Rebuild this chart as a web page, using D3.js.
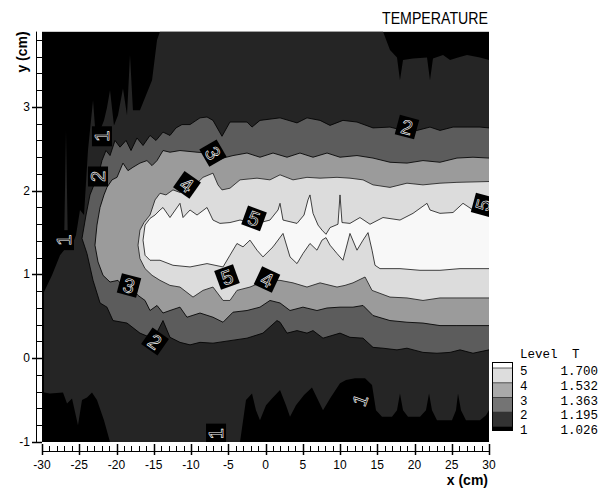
<!DOCTYPE html>
<html><head><meta charset="utf-8">
<script src="https://cdn.jsdelivr.net/npm/d3@7"></script>
<style>body{margin:0;background:#fff}</style>
</head><body>
<svg id="chart" width="613" height="493"></svg>
<script>
// ---------- data (cm) ----------
const xDomain = [-30, 30];
const yDomain = [-1, 3.9];
const xTickLabels = [-30,-25,-20,-15,-10,-5,0,5,10,15,20,25,30];
const yTickLabels = [-1,0,1,2,3];
const levelNumbers = [5,4,3,2,1];
const levelValues = ["1.700","1.532","1.363","1.195","1.026"];

// contour of level 1 (T > 1.026)
const c1Upper = [[-29.73,0.79],[-28.66,0.99],[-27.58,1.23],[-27.05,1.29],[-26.78,2.72],[-26.51,1.29],[-25.97,1.35],[-25.44,1.47],[-24.9,1.77],[-24.36,1.71],[-23.83,2.48],[-23.15,3.08],[-22.75,2.6],[-22.21,2.72],[-21.68,2.84],[-21.28,2.99],[-20.87,3.2],[-20.34,2.78],[-19.8,2.9],[-19.13,3.22],[-18.59,2.9],[-18.19,3.62],[-17.79,2.96],[-16.85,2.96],[-16.04,3.14],[-15.23,3.32],[-14.56,3.8],[-14.16,3.9],[15.77,3.9],[16.71,3.68],[17.65,3.59],[18.05,3.32],[18.46,3.56],[19.8,3.58],[21.68,3.59],[22.08,3.32],[22.48,3.58],[23.83,3.62],[24.77,3.56],[25.84,3.59],[27.05,3.62],[28.79,3.59],[30,3.56]];
const c1Lower = [[-29.73,-0.41],[-28.93,-0.42],[-27.18,-0.41],[-26.64,-0.54],[-25.97,-0.48],[-25.17,-0.8],[-24.63,-0.5],[-23.96,-0.47],[-23.29,-0.41],[-22.62,-0.5],[-21.68,-0.74],[-20.87,-1.0],[-3.42,-1.0],[-2.62,-0.5],[-1.81,-0.42],[-1.28,-0.62],[-0.74,-0.74],[0.07,-0.56],[0.87,-0.48],[1.95,-0.38],[2.75,-0.56],[3.29,-0.7],[4.09,-0.56],[5.17,-0.44],[6.24,-0.35],[7.05,-0.5],[7.72,-0.62],[8.66,-0.48],[10.0,-0.3],[10.81,-0.26],[12.01,-0.24],[13.36,-0.24],[14.3,-0.32],[14.83,-0.62],[15.64,-0.7],[16.98,-0.7],[17.65,-0.62],[18.05,-0.42],[18.46,-0.62],[19.13,-0.7],[20.74,-0.7],[21.54,-0.62],[21.95,-0.42],[22.35,-0.62],[23.02,-0.74],[25.03,-0.74],[25.57,-0.62],[25.84,-0.42],[26.24,-0.62],[26.91,-0.74],[28.79,-0.74],[29.6,-0.68],[30,-0.62]];

// contour of level 2 (T > 1.195)
const c2Upper = [[-24.63,1.43],[-24.09,1.71],[-23.56,1.95],[-22.89,2.1],[-22.48,2.17],[-21.95,2.36],[-21.41,2.48],[-20.87,2.42],[-20.2,2.6],[-19.53,2.52],[-18.72,2.6],[-18.05,2.48],[-17.25,2.63],[-16.44,2.54],[-15.5,2.66],[-14.7,2.6],[-13.76,2.7],[-12.82,2.66],[-12.01,2.75],[-11.21,2.79],[-10.13,2.79],[-8.79,2.87],[-7.85,2.88],[-7.05,2.84],[-5.84,2.65],[-4.77,2.82],[-2.48,2.82],[-1.81,2.76],[-0.74,2.84],[1.95,2.87],[4.23,2.81],[5.57,2.87],[7.32,2.84],[8.66,2.78],[10.4,2.84],[12.28,2.82],[14.43,2.75],[16.71,2.76],[18.46,2.72],[20.34,2.72],[22.08,2.76],[23.42,2.72],[25.17,2.76],[27.05,2.76],[28.79,2.76],[30,2.75]];
const c2Lower = [[-24.63,1.43],[-23.96,1.25],[-23.15,0.93],[-22.21,0.66],[-21.28,0.61],[-20.47,0.45],[-18.59,0.42],[-16.85,0.3],[-15.5,0.25],[-14.56,0.31],[-13.76,0.45],[-12.82,0.25],[-11.48,0.19],[-10.13,0.16],[-8.79,0.19],[-7.05,0.18],[-4.77,0.21],[-2.48,0.24],[-0.34,0.3],[1.54,0.45],[1.95,0.43],[2.89,0.3],[4.23,0.33],[5.57,0.3],[6.38,0.33],[7.72,0.24],[10.0,0.3],[11.34,0.25],[13.09,0.24],[14.43,0.13],[15.77,0.12],[17.65,0.1],[18.99,0.12],[21.14,0.07],[23.02,0.06],[24.77,0.07],[26.11,0.1],[27.85,0.06],[30,0.1]];

// contour of level 3 (T > 1.363)
const c3Upper = [[-22.89,1.35],[-22.62,1.59],[-22.21,1.8],[-21.68,1.95],[-21.28,2.04],[-20.6,2.13],[-19.93,2.16],[-19.13,2.33],[-18.46,2.24],[-17.79,2.28],[-16.85,2.33],[-15.91,2.36],[-15.23,2.3],[-14.56,2.36],[-13.76,2.48],[-12.82,2.46],[-11.48,2.48],[-9.19,2.46],[-7.45,2.45],[-6.38,2.36],[-5.7,2.39],[-4.36,2.42],[-2.48,2.45],[-0.74,2.4],[1.01,2.45],[2.89,2.4],[4.63,2.45],[6.38,2.4],[8.26,2.45],[10.0,2.4],[12.28,2.42],[14.43,2.39],[16.71,2.34],[18.99,2.33],[21.14,2.36],[23.42,2.34],[25.7,2.39],[27.85,2.4],[30,2.39]];
const c3Lower = [[-22.89,1.35],[-22.48,1.15],[-21.81,0.99],[-20.87,0.91],[-19.8,0.93],[-18.99,0.84],[-18.19,0.87],[-17.11,0.75],[-16.17,0.69],[-15.5,0.57],[-14.56,0.63],[-13.76,0.54],[-12.82,0.57],[-11.48,0.61],[-10.54,0.49],[-8.79,0.54],[-7.05,0.49],[-5.7,0.43],[-4.36,0.55],[-2.48,0.57],[-0.74,0.61],[0.6,0.69],[1.95,0.66],[3.29,0.57],[5.03,0.61],[6.91,0.57],[8.26,0.6],[10.0,0.61],[11.74,0.61],[13.09,0.63],[14.43,0.51],[16.71,0.45],[18.99,0.43],[21.14,0.42],[23.42,0.39],[25.7,0.39],[30,0.39]];

// contour of level 4 (T > 1.532)
const c4Upper = [[-17.11,1.35],[-16.85,1.53],[-16.31,1.62],[-15.5,1.71],[-14.83,1.89],[-14.16,1.97],[-13.36,1.95],[-12.42,2.01],[-11.48,1.98],[-10.13,2.04],[-9.19,2.09],[-8.39,2.16],[-7.05,2.21],[-6.38,2.07],[-5.84,2.01],[-4.77,2.03],[-3.42,2.13],[-1.14,2.15],[0.6,2.13],[1.95,2.19],[3.69,2.13],[5.57,2.16],[7.32,2.15],[9.6,2.16],[11.34,2.15],[13.09,2.13],[14.43,2.07],[16.71,2.04],[18.99,2.09],[21.14,2.07],[23.42,2.09],[25.7,2.1],[30,2.11]];
const c4Lower = [[-17.11,1.35],[-16.85,1.19],[-16.17,1.07],[-15.23,0.99],[-14.16,0.93],[-12.82,0.87],[-11.48,0.85],[-9.73,0.73],[-8.39,0.81],[-7.05,0.85],[-5.7,0.69],[-4.77,0.69],[-3.83,0.81],[-2.08,0.85],[-0.74,0.9],[0.2,0.93],[1.95,0.93],[3.69,0.9],[5.57,0.85],[7.32,0.9],[9.6,0.85],[10.67,0.87],[11.74,0.9],[13.36,0.97],[14.3,0.81],[16.71,0.73],[18.99,0.72],[21.14,0.69],[23.42,0.72],[25.7,0.72],[30,0.72]];

// contour of level 5 (T > 1.700)
const c5Upper = [[-16.44,1.41],[-16.17,1.59],[-15.5,1.67],[-14.83,1.71],[-14.16,1.77],[-13.76,1.8],[-12.82,1.68],[-11.48,1.85],[-11.07,1.68],[-10.13,1.77],[-9.19,1.71],[-7.85,1.8],[-7.05,1.65],[-6.11,1.61],[-4.77,1.62],[-3.42,1.65],[-1.14,1.61],[0.6,1.65],[1.68,1.77],[1.95,1.85],[2.35,1.65],[4.23,1.61],[5.17,1.71],[5.7,1.89],[5.97,1.95],[6.38,1.73],[7.05,1.59],[7.58,1.53],[8.12,1.48],[8.66,1.56],[9.73,1.6],[10.0,1.95],[10.27,1.62],[11.34,1.61],[12.68,1.68],[14.03,1.6],[15.77,1.68],[18.05,1.65],[19.8,1.73],[21.68,1.85],[22.08,1.77],[23.42,1.73],[25.17,1.74],[26.51,1.85],[27.85,1.77],[30,1.8]];
const c5Lower = [[-16.44,1.41],[-16.17,1.23],[-15.5,1.17],[-14.16,1.17],[-12.42,1.11],[-10.13,1.09],[-7.85,1.13],[-5.7,1.09],[-4.77,1.23],[-3.83,1.37],[-3.02,1.33],[-2.08,1.41],[-1.14,1.29],[-0.34,1.21],[1.01,1.33],[2.35,1.49],[3.29,1.21],[4.23,1.13],[5.03,1.25],[5.97,1.37],[6.91,1.29],[7.58,1.41],[8.12,1.44],[8.66,1.35],[9.6,1.25],[10.4,1.17],[11.34,1.49],[12.28,1.29],[13.09,1.41],[13.76,1.5],[14.3,1.29],[14.7,1.11],[15.37,1.07],[18.05,1.07],[20.74,1.05],[23.42,1.05],[26.11,1.07],[30,1.07]];

// contour labels: [x, y, level, angle]
const contourLabels = [[-21.95,2.65,1,-90],[-22.48,2.17,2,-90],[-27.05,1.41,1,-90],[-10.54,2.07,4,35],[-7.05,2.45,3,60],[-1.54,1.67,5,20],[-5.17,0.97,5,-20],[0.2,0.94,4,25],[-18.32,0.87,3,15],[-14.83,0.2,2,35],[18.99,2.76,2,15],[29.2,1.83,5,-75],[-6.64,-0.9,1,-90],[12.68,-0.5,1,-70]];

// ---------- styles ----------
const bandColors = ["#000000","#252525","#5c5c5c","#9b9b9b","#dcdcdc","#f8f8f8"];
const legendColors = ["#ffffff","#dddddd","#a9a9a9","#747474","#333333","#000000"];

const svg = d3.select("#chart");
const x = d3.scaleLinear().domain(xDomain).range([42, 489]);
const y = d3.scaleLinear().domain(yDomain).range([442, 31.6]);

svg.append("defs").append("clipPath").attr("id","clip")
  .append("rect").attr("x",x(-30)).attr("y",y(3.9)).attr("width",x(30)-x(-30)).attr("height",y(-1)-y(3.9));

const plot = svg.append("g").attr("clip-path","url(#clip)");
plot.append("rect").attr("x",x(-30)).attr("y",y(3.9)).attr("width",x(30)-x(-30)).attr("height",y(-1)-y(3.9)).attr("fill",bandColors[0]);

const line = d3.line().x(d=>x(d[0])).y(d=>y(d[1])).curve(d3.curveLinear);
const contours = [[c1Upper,c1Lower],[c2Upper,c2Lower],[c3Upper,c3Lower],[c4Upper,c4Lower],[c5Upper,c5Lower]];
contours.forEach((c,i)=>{
  const poly = c[0].concat(c[1].slice().reverse());
  plot.append("path").attr("d", line(poly) + "Z").attr("fill", bandColors[i+1]);
});
contours.forEach((c,i)=>{
  if (i===0) return;
  [c[0],c[1]].forEach(b=>{
    plot.append("path").attr("d", line(b)).attr("fill","none")
      .attr("stroke", i>=3 ? "#222" : "#000").attr("stroke-width",1).attr("stroke-opacity",0.85).attr("stroke-linejoin","round");
  });
});

// contour labels
contourLabels.forEach(l=>{
  const g = plot.append("g").attr("transform",`translate(${x(l[0])},${y(l[1])}) rotate(${l[3]})`);
  g.append("rect").attr("x",-10).attr("y",-10).attr("width",20).attr("height",20).attr("fill","#000");
  g.append("text").attr("text-anchor","middle").attr("dy","0.36em")
    .attr("font-family","Liberation Sans, Arial, sans-serif").attr("font-size",20)
    .attr("fill","#000").attr("stroke","#fff").attr("stroke-width",0.6).text(l[2]);
});

// ---------- axes (ruler style) ----------
const ax = svg.append("g").attr("stroke","#000").attr("stroke-width",1);
const xBase = 451.5;
ax.append("line").attr("x1",x(-30)).attr("x2",x(30)).attr("y1",xBase).attr("y2",xBase);
d3.range(-30,30.001,1).forEach(v=>{
  const major = Math.abs(v%5)<1e-6;
  const px = Math.round(x(v))+0.5;
  ax.append("line").attr("x1",px).attr("x2",px).attr("y1",major?444:446).attr("y2",major?455:xBase)
    .attr("stroke-width", major?1.5:1);
});
const yBase = 36.5;
ax.append("line").attr("x1",yBase).attr("x2",yBase).attr("y1",y(3.9)).attr("y2",y(-1));
d3.range(-1,3.9001,0.2).forEach(v=>{
  const major = Math.abs(v-Math.round(v))<1e-6;
  const py = Math.round(y(v))+0.5;
  ax.append("line").attr("x1",major?32:yBase).attr("x2",42).attr("y1",py).attr("y2",py)
    .attr("stroke-width", major?1.5:1);
});

const tickFont = "Liberation Sans, Arial, sans-serif";
svg.append("g").selectAll("text").data(xTickLabels).join("text")
  .attr("x",d=>x(d)).attr("y",469).attr("text-anchor","middle")
  .attr("font-family",tickFont).attr("font-size",12).text(d=>d);
svg.append("g").selectAll("text").data(yTickLabels).join("text")
  .attr("x",30).attr("y",d=>y(d)+4).attr("text-anchor","end")
  .attr("font-family",tickFont).attr("font-size",12).text(d=>d);

svg.append("text").attr("x",488).attr("y",485).attr("text-anchor","end")
  .attr("font-family",tickFont).attr("font-size",14).attr("font-weight","bold").text("x (cm)");
svg.append("text").attr("transform","translate(27,52) rotate(-90)").attr("text-anchor","middle")
  .attr("font-family",tickFont).attr("font-size",14).attr("font-weight","bold").text("y (cm)");
svg.append("text").attr("x",488).attr("y",24).attr("text-anchor","end")
  .attr("font-family",tickFont).attr("font-size",16).attr("textLength",106).attr("lengthAdjust","spacingAndGlyphs").text("TEMPERATURE");

// ---------- legend ----------
const lg = svg.append("g");
const lx = 492, lw = 20, ltop = 362, rowH = 14.75, firstB = 368;
const bounds = [ltop].concat(levelNumbers.map((d,i)=>firstB+i*rowH)).concat([430]);
legendColors.forEach((c,i)=>{
  lg.append("rect").attr("x",lx).attr("y",bounds[i]).attr("width",lw).attr("height",bounds[i+1]-bounds[i]).attr("fill",c);
});
levelNumbers.forEach((d,i)=>{
  const yy = firstB+i*rowH;
  lg.append("line").attr("x1",lx).attr("x2",lx+lw).attr("y1",yy).attr("y2",yy).attr("stroke","#000").attr("stroke-width",0.6);
});
lg.append("rect").attr("x",lx+0.5).attr("y",ltop+0.5).attr("width",lw).attr("height",430-ltop).attr("fill","none").attr("stroke","#000");
const monoFont = "Liberation Mono, DejaVu Sans Mono, monospace";
lg.append("text").attr("x",520).attr("y",358).attr("font-family",monoFont).attr("font-size",12.5).text("Level");
lg.append("text").attr("x",572).attr("y",358).attr("font-family",monoFont).attr("font-size",12.5).text("T");
levelNumbers.forEach((d,i)=>{
  const yy = firstB+i*rowH+7;
  lg.append("text").attr("x",520).attr("y",yy).attr("font-family",monoFont).attr("font-size",12.5).text(d);
  lg.append("text").attr("x",598).attr("y",yy).attr("text-anchor","end").attr("font-family",monoFont).attr("font-size",12.5).text(levelValues[i]);
});
</script>
</body></html>
